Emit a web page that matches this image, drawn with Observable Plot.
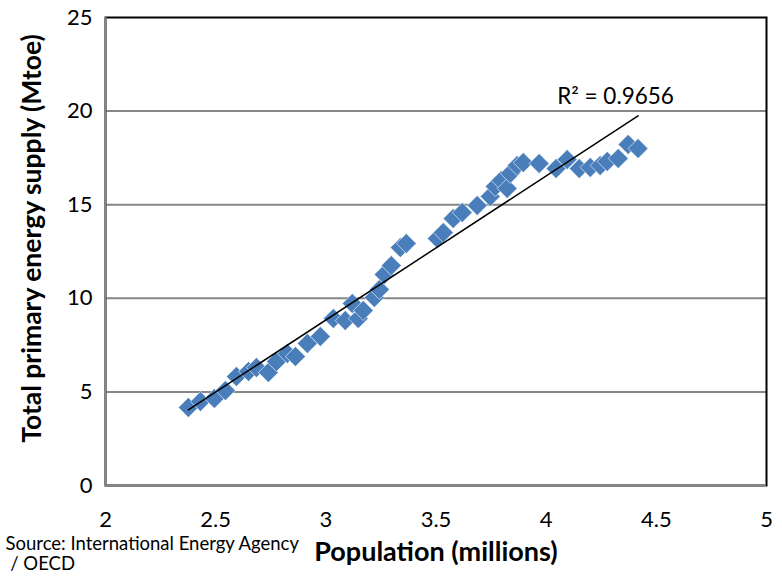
<!DOCTYPE html>
<html>
<head>
<meta charset="utf-8">
<script src="https://cdn.jsdelivr.net/npm/d3@7"></script>
<script src="https://cdn.jsdelivr.net/npm/@observablehq/plot@0.6"></script>
<style>
  html, body { margin: 0; padding: 0; background: #fff; }
  svg { display: block; }
</style>
</head>
<body>
<div id="chart"></div>
<script>
// Population (millions)
const population = [2.376, 2.431, 2.494, 2.544, 2.594, 2.649, 2.685, 2.739, 2.776, 2.825,
  2.862, 2.916, 2.975, 3.034, 3.088, 3.120, 3.147, 3.170, 3.220, 3.243,
  3.265, 3.297, 3.338, 3.365, 3.506, 3.533, 3.578, 3.619, 3.687, 3.746,
  3.769, 3.796, 3.823, 3.837, 3.868, 3.896, 3.968, 4.045, 4.095, 4.150,
  4.200, 4.245, 4.277, 4.327, 4.372, 4.417];
// Total primary energy supply (Mtoe)
const tpes = [4.17, 4.49, 4.65, 5.07, 5.82, 6.09, 6.30, 6.04, 6.62, 7.05,
  6.89, 7.59, 7.96, 8.92, 8.81, 9.72, 8.92, 9.35, 10.04, 10.47,
  11.27, 11.75, 12.71, 12.93, 13.19, 13.51, 14.26, 14.58, 14.96, 15.44,
  15.97, 16.29, 15.87, 16.67, 17.09, 17.25, 17.20, 16.93, 17.41, 16.93,
  16.99, 17.09, 17.31, 17.47, 18.22, 18.00];
const xTicks = [2, 2.5, 3, 3.5, 4, 4.5, 5];
const yTicks = [0, 5, 10, 15, 20, 25];
const gridValues = [5, 10, 15, 20];
const r2Label = [{x: 4.05, y: 20.75, text: "R\u00B2 = 0.9656"}];
const yTitle = "Total primary energy supply (Mtoe)";
const xTitle = "Population (millions)";
const source = "Source: International Energy Agency\n / OECD";

const data = population.map((p, i) => ({pop: p, tpes: tpes[i]}));

const chart = Plot.plot({
  width: 782,
  height: 576,
  marginLeft: 105,
  marginRight: 16,
  marginTop: 17,
  marginBottom: 91,
  style: {fontFamily: "Lato, 'Open Sans', sans-serif", fontSize: "20px", color: "#000", background: "#fff"},
  x: {domain: [2, 5]},
  y: {domain: [0, 25]},
  marks: [
    Plot.gridY(gridValues, {stroke: "#868686", strokeOpacity: 1, strokeWidth: 2}),
    Plot.frame({stroke: "#000", strokeWidth: 2}),
    Plot.ruleX([2], {stroke: "#868686", strokeWidth: 2}),
    Plot.ruleY([0], {stroke: "#868686", strokeWidth: 2}),
    Plot.axisX(xTicks, {tickSize: 0, tickPadding: 26, fontSize: 22, label: null, tickFormat: d => String(d)}),
    Plot.axisY(yTicks, {tickSize: 0, tickPadding: 13, fontSize: 22, label: null, tickFormat: d => String(d)}),
    Plot.dot(data, {x: "pop", y: "tpes", symbol: "diamond2", r: 9, fill: "#4a7ebb", stroke: "#fff", strokeWidth: 0.6}),
    Plot.linearRegressionY(data, {x: "pop", y: "tpes", stroke: "#000", strokeWidth: 1.5, ci: 0}),
    Plot.text(r2Label, {x: "x", y: "y", text: "text", textAnchor: "start", fontSize: 22.5}),
    Plot.text([yTitle], {frameAnchor: "left", textAnchor: "middle", rotate: -90, dx: -73, dy: -13, fontWeight: "bold", fontSize: 26.5}),
    Plot.text([xTitle], {frameAnchor: "bottom", dy: 75, fontWeight: "bold", fontSize: 27}),
    Plot.text([source], {frameAnchor: "bottom-left", dx: -100, dy: 50, textAnchor: "start", fontSize: 18.5, lineHeight: 1.1, lineAnchor: "top"})
  ]
});
document.getElementById("chart").appendChild(chart);
</script>
</body>
</html>
